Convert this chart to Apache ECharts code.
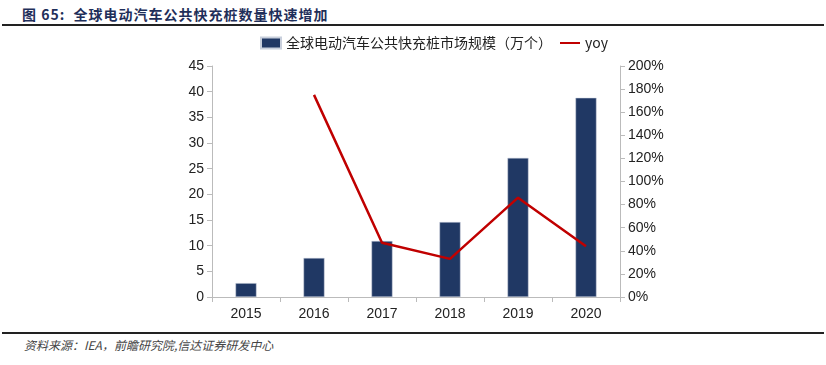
<!DOCTYPE html>
<html>
<head>
<meta charset="utf-8">
<script src="https://cdn.jsdelivr.net/npm/echarts@6/dist/echarts.min.js"></script>
<style>
  body { margin: 0; background: #fff; }
  #wrap { position: relative; width: 826px; height: 365px; }
  #title { position: absolute; left: 22px; top: 4px; font: bold 14px "Noto Sans CJK SC", sans-serif; color: #1f2f5a; letter-spacing: 1px; }
  #topline { position: absolute; left: 2px; top: 24px; width: 822px; height: 2px; background: #222; }
  #botline { position: absolute; left: 2px; top: 332px; width: 822px; height: 1.5px; background: #222; }
  #source { position: absolute; left: 24px; top: 336px; font: italic 12px "Noto Sans CJK SC", sans-serif; color: #444; }
  #chart { position: absolute; left: 0; top: 26px; width: 826px; height: 306px; }
</style>
</head>
<body>
<div id="wrap">
  <div id="title">图 65:&nbsp; 全球电动汽车公共快充桩数量快速增加</div>
  <div id="topline"></div>
  <div id="chart"></div>
  <div id="botline"></div>
  <div id="source">资料来源：IEA，前瞻研究院,信达证券研发中心</div>
</div>
<script>
var years = ["2015", "2016", "2017", "2018", "2019", "2020"];
var chargers = [2.7, 7.6, 10.9, 14.6, 27.1, 38.8];
var yoy = [null, 175, 47, 33, 86, 44];

var chart = echarts.init(document.getElementById("chart"));

var option = {
  animation: false,
  textStyle: { fontFamily: "Liberation Sans, Arial, sans-serif" },
  legend: {
    top: 5,
    left: 255,
    itemGap: 8,
    textStyle: { fontSize: 14, color: "#222", fontFamily: "Noto Sans CJK SC, sans-serif" },
    data: [
      { name: "全球电动汽车公共快充桩市场规模（万个）", icon: "rect", itemStyle: { color: "#203864" } },
      { name: "yoy", icon: "path://M0,0 L30,0 L30,3 L0,3 Z", itemStyle: { color: "#c00000" } }
    ],
    itemWidth: 20,
    itemHeight: 11
  },
  grid: { left: 212, right: 206, top: 40, bottom: 35 },
  xAxis: {
    type: "category",
    data: years,
    axisLine: { lineStyle: { color: "#bbb" } },
    axisTick: { show: true, alignWithLabel: false, lineStyle: { color: "#bbb" } },
    axisLabel: { color: "#222", fontSize: 14, margin: 10 }
  },
  yAxis: [
    {
      type: "value",
      min: 0, max: 45, interval: 5,
      splitLine: { show: false },
      axisLine: { show: true, lineStyle: { color: "#bbb" } },
      axisTick: { show: true, lineStyle: { color: "#bbb" } },
      axisLabel: { color: "#222", fontSize: 14 }
    },
    {
      type: "value",
      min: 0, max: 200, interval: 20,
      splitLine: { show: false },
      axisLine: { show: true, lineStyle: { color: "#bbb" } },
      axisTick: { show: true, lineStyle: { color: "#bbb" } },
      axisLabel: { color: "#222", fontSize: 14, formatter: "{value}%" }
    }
  ],
  series: [
    {
      name: "全球电动汽车公共快充桩市场规模（万个）",
      type: "bar",
      data: chargers,
      barWidth: 21,
      itemStyle: { color: "#203864", borderColor: "#c8cfdc", borderWidth: 0.5 }
    },
    {
      name: "yoy",
      type: "line",
      yAxisIndex: 1,
      data: yoy,
      symbol: "none",
      lineStyle: { color: "#c00000", width: 2.5 },
      itemStyle: { color: "#c00000" }
    }
  ]
};

chart.setOption(option);
</script>
</body>
</html>
